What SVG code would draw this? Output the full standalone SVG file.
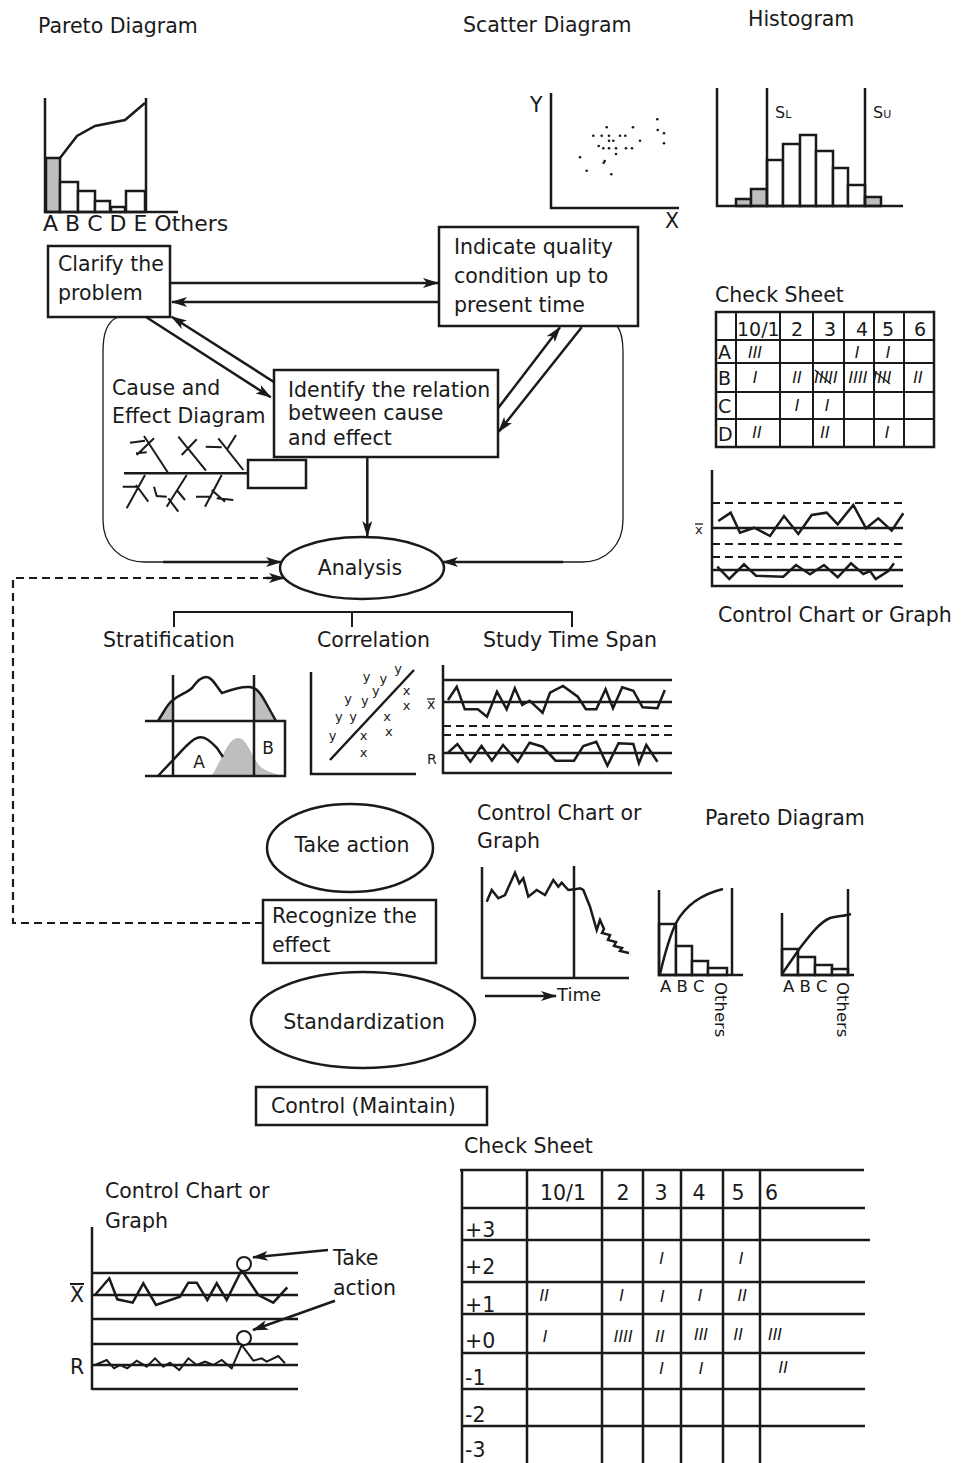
<svg xmlns="http://www.w3.org/2000/svg" width="972" height="1463" viewBox="0 0 972 1463">
<style>
text{font-family:"DejaVu Sans",sans-serif;fill:#1a1a1a}
.t{font-size:20.5px}
.s{font-size:16.5px}
.tl{font-size:16px;font-style:italic}
.ln{stroke:#1a1a1a;stroke-width:2.5;fill:none}
.th{stroke:#1a1a1a;stroke-width:2;fill:none}
.tn{stroke:#1a1a1a;stroke-width:1.3;fill:none}
.bx{stroke:#1a1a1a;stroke-width:2.5;fill:#fff}
.gr{fill:#bdbec0;stroke:#1a1a1a;stroke-width:2.5}
.gf{fill:#bdbec0;stroke:none}
.ds{stroke:#1a1a1a;stroke-width:2.2;fill:none;stroke-dasharray:8,5}
.dot{fill:#1a1a1a}
</style>
<defs>
<marker id="ah" markerWidth="16" markerHeight="10" refX="15" refY="5" orient="auto" markerUnits="userSpaceOnUse"><path d="M0,0 L16,5 L0,10 L4,5 z" fill="#1a1a1a"/></marker>
</defs>
<rect width="972" height="1463" fill="#fff"/>

<!-- Top Pareto -->
<g id="pareto-top">
<text class="t" x="38" y="33">Pareto Diagram</text>
<rect class="gr" x="46" y="158" width="14" height="54"/>
<rect class="bx" x="60" y="182" width="18" height="30"/>
<rect class="bx" x="78" y="191" width="17" height="21"/>
<rect class="bx" x="95" y="201" width="15" height="11"/>
<rect class="bx" x="111" y="207" width="14" height="5"/>
<rect class="bx" x="126" y="191" width="19" height="21"/>
<path class="ln" d="M45,98 V212 H178 M146,98 V212"/>
<polyline class="ln" points="60,158 77,136 95,126 125,120 145,103"/>
<text x="43" y="231" style="font-size:22px">A B C D E Others</text>
</g>

<!-- Scatter -->
<g id="scatter">
<text class="t" x="463" y="32">Scatter Diagram</text>
<path class="ln" d="M551,93 V208 H679"/>
<text class="t" x="530" y="112">Y</text>
<text class="t" x="665" y="228">X</text>
<g class="dot">
<circle cx="657.3" cy="119.3" r="1.3"/><circle cx="606.7" cy="127.3" r="1.3"/><circle cx="633" cy="127.3" r="1.3"/>
<circle cx="593.3" cy="135.7" r="1.3"/><circle cx="601.7" cy="135.7" r="1.3"/><circle cx="609" cy="135.7" r="1.3"/>
<circle cx="620" cy="135.7" r="1.3"/><circle cx="625.3" cy="135.7" r="1.3"/><circle cx="657.7" cy="130" r="1.3"/>
<circle cx="664" cy="133.3" r="1.3"/><circle cx="609" cy="140.7" r="1.3"/><circle cx="613.3" cy="140.7" r="1.3"/>
<circle cx="640" cy="140.7" r="1.3"/><circle cx="664" cy="143.3" r="1.3"/><circle cx="598.7" cy="146" r="1.3"/>
<circle cx="603.3" cy="148.3" r="1.3"/><circle cx="609" cy="148.3" r="1.3"/><circle cx="616" cy="148.3" r="1.3"/>
<circle cx="626" cy="148.3" r="1.3"/><circle cx="632" cy="148.3" r="1.3"/><circle cx="616" cy="154" r="1.3"/>
<circle cx="580" cy="157.3" r="1.3"/><circle cx="604.7" cy="161" r="1.3"/><circle cx="603.7" cy="162.7" r="1.3"/>
<circle cx="586.7" cy="170.7" r="1.3"/><circle cx="611.3" cy="174.3" r="1.3"/>
</g>
</g>

<!-- Histogram -->
<g id="histogram">
<text class="t" x="748" y="26">Histogram</text>
<rect class="gr" x="736" y="199" width="15" height="7"/>
<rect class="gr" x="751" y="189" width="16" height="17"/>
<rect class="bx" x="767" y="160" width="16" height="46"/>
<rect class="bx" x="783" y="144" width="17" height="62"/>
<rect class="bx" x="800" y="135" width="16" height="71"/>
<rect class="bx" x="816" y="151" width="17" height="55"/>
<rect class="bx" x="833" y="168" width="15" height="38"/>
<rect class="bx" x="848" y="185" width="17" height="21"/>
<rect class="gr" x="865" y="197" width="16" height="9"/>
<path class="ln" d="M717,88 V206 H903 M767,88 V206 M865,88 V206"/>
<text x="775" y="118" style="font-size:16px">S<tspan style="font-size:11px">L</tspan></text>
<text x="873" y="118" style="font-size:16px">S<tspan style="font-size:11px">U</tspan></text>
</g>

<!-- Check sheet right -->
<g id="checksheet-right">
<text class="t" x="715" y="302">Check Sheet</text>
<path class="th" d="M736,312 V447 M780,312 V447 M813,312 V447 M844,312 V447 M874,312 V447 M904,312 V447 M716,340 H934 M716,363 H934 M716,392 H934 M716,419 H934"/>
<rect x="716" y="312" width="218" height="135" class="ln"/>
<g style="font-size:19px">
<text x="737" y="336">10/1</text>
<text x="797" y="336" text-anchor="middle">2</text>
<text x="830" y="336" text-anchor="middle">3</text>
<text x="862" y="336" text-anchor="middle">4</text>
<text x="888" y="336" text-anchor="middle">5</text>
<text x="920" y="336" text-anchor="middle">6</text>
<text x="718" y="359">A</text>
<text x="718" y="385">B</text>
<text x="718" y="413">C</text>
<text x="718" y="441">D</text>
</g>
<g class="tl" text-anchor="middle">
<text x="755" y="358">III</text><text x="857" y="358">I</text><text x="888" y="358">I</text>
<text x="755" y="383">I</text><text x="797" y="383">II</text><text x="826" y="383">IIIII</text><text x="858" y="383">IIII</text><text x="882" y="383">IIII</text><text x="918" y="383">II</text>
<text x="797" y="411">I</text><text x="827" y="411">I</text>
<text x="757" y="438">II</text><text x="825" y="438">II</text><text x="887" y="438">I</text>
</g>
<path class="tn" d="M815,370 L831,384 M873,370 L890,384"/>
</g>

<!-- Control chart right -->
<g id="control-right">
<path class="ds" d="M712,503 H903 M712,544 H903 M712,557 H903"/>
<path class="ln" d="M712,470 V586 H903 M712,528 H903 M712,570 H903"/>
<polyline class="ln" points="718.3,521 730.7,512.7 740,532.7 754.3,527.7 770,536 784,516 798.3,534 811.7,515 826.7,512.7 837.7,524.3 853.3,505 866,528.3 878.3,518.3 891.7,530.7 903.3,513.3"/>
<polyline class="ln" points="717.3,566.7 729.3,579 744,564.3 756,575.7 783.3,576.7 796,565 810,574.3 824,565 837.7,577.3 851,563.3 863.3,574 870,571 875.7,579 888.3,571 894,563.3"/>
<text x="695" y="534" style="font-size:13px">x</text>
<line class="tn" x1="695" y1="524" x2="703" y2="524"/>
<text class="t" x="718" y="622">Control Chart or Graph</text>
</g>

<!-- Connectors -->
<g id="connectors">
<path class="tn" d="M118,317 C106,322 103,335 103,352 L103,520 C103,545 120,562 145,562 L163,562"/>
<path class="tn" d="M617,326 C622,332 623,340 623,352 L623,520 C623,545 606,562 582,562 L563,562"/>
<line class="ln" x1="163" y1="562" x2="281" y2="562" marker-end="url(#ah)"/>
<line class="ln" x1="563" y1="562" x2="443" y2="562" marker-end="url(#ah)"/>
<line class="ln" x1="170" y1="283" x2="438" y2="283" marker-end="url(#ah)"/>
<line class="ln" x1="439" y1="302" x2="172" y2="302" marker-end="url(#ah)"/>
<line class="ln" x1="146" y1="317" x2="270.7" y2="397.3" marker-end="url(#ah)"/>
<line class="ln" x1="275" y1="382.7" x2="171.7" y2="316.7" marker-end="url(#ah)"/>
<line class="ln" x1="498" y1="408.3" x2="560" y2="327.3" marker-end="url(#ah)"/>
<line class="ln" x1="581.7" y1="327.3" x2="498.7" y2="431.7" marker-end="url(#ah)"/>
<line class="ln" x1="367.3" y1="457" x2="367.3" y2="536" marker-end="url(#ah)"/>
<path class="ds" d="M263,923 H13 V578 H270"/>
<line class="ln" x1="266" y1="578" x2="284" y2="578" marker-end="url(#ah)"/>
<path class="th" d="M174,627 V612 H572 V627 M352,612 V627"/>
</g>

<!-- Nodes -->
<g id="clarify">
<rect class="bx" x="48" y="246" width="122" height="71"/>
<text class="t" x="58" y="271">Clarify the</text>
<text class="t" x="58" y="300">problem</text>
</g>
<g id="indicate">
<rect class="bx" x="439" y="227" width="199" height="99"/>
<text class="t" x="454" y="254">Indicate quality</text>
<text class="t" x="454" y="283">condition up to</text>
<text class="t" x="454" y="312">present time</text>
</g>
<g id="cause-effect">
<text class="t" x="112" y="395">Cause and</text>
<text class="t" x="112" y="423">Effect Diagram</text>
<rect class="bx" x="248" y="460" width="58" height="28"/>
<path class="ln" d="M124,473.3 H248"/>
<path class="th" d="M144,436 L167.7,472.3 M136.7,455 L154,438.3 M130,442.7 L145,440.7 M136,453.3 L146.7,452.3 M178.3,436.7 L206,470.7 M181.7,455 L196.7,439.3 M218.3,438.3 L243.3,470 M226.7,450 L236,435 M205.7,446.7 L221.7,447.3 M145,475 L126.7,508.3 M136,485 L148.3,501.7 M122.7,486.7 L136.7,486.7 M154,486.7 L156.7,496 L166.7,496.7 M186.7,475 L166.7,506.7 M176.7,490 L185,500 M168.3,498.3 L178.3,511.7 M221.7,475 L205,506.7 M211.7,490 L225,501.7 M196,496.7 L211.7,496.7 M216.7,498.3 L233.3,500"/>
</g>
<g id="identify">
<rect class="bx" x="274" y="370" width="224" height="87"/>
<text class="t" x="288" y="397">Identify the relation</text>
<text class="t" x="288" y="420">between cause</text>
<text class="t" x="288" y="445">and effect</text>
</g>
<g id="analysis">
<ellipse class="bx" cx="362" cy="568" rx="82" ry="31"/>
<text class="t" x="360" y="575" text-anchor="middle">Analysis</text>
</g>

<!-- Stratification -->
<g id="stratification">
<text class="t" x="103" y="647">Stratification</text>
<path class="gf" d="M158,721 C165,710 168,703 173,700 L173,721 Z"/>
<path class="gf" d="M254,688 C259,690 262,696 266,703 L276,721 L254,721 Z"/>
<path class="gf" d="M212,775 C222,760 228,738 238,738 C248,738 252,760 262,768 C268,772 274,773 279,775 Z"/>
<path class="ln" d="M158,721 C165,710 168,703 173,700 C180,694 187,693 192,688 C197,681 201,677 206,677 C213,677 217,688 222,693 C230,690 240,686 250,687 C258,688 262,696 266,703 L276,721"/>
<path class="ln" d="M158,776 L173,760 C182,751 190,740 197,738 C205,735 212,743 217,748 L223,757"/>
<path class="ln" d="M145,721 H285 V776 H145 M173,675 V776 M254,675 V776"/>
<text x="199" y="768" text-anchor="middle" style="font-size:17px">A</text>
<text x="268" y="754" text-anchor="middle" style="font-size:17px">B</text>
</g>

<!-- Correlation -->
<g id="correlation">
<text class="t" x="317" y="647">Correlation</text>
<path class="ln" d="M311,672 V774 H416 M330,760 L414,670"/>
<g style="font-size:13px" text-anchor="middle">
<text x="366.7" y="681">y</text><text x="383.3" y="683">y</text><text x="398.1" y="673">y</text>
<text x="348.1" y="703">y</text><text x="364.8" y="704.7">y</text><text x="375.9" y="694.7">y</text>
<text x="338.9" y="721.3">y</text><text x="353" y="721.3">y</text><text x="332.6" y="739.7">y</text>
<text x="406.7" y="695">x</text><text x="406.7" y="710">x</text><text x="387" y="721.3">x</text>
<text x="388.9" y="735.7">x</text><text x="363.7" y="740">x</text><text x="363.7" y="757">x</text>
</g>
</g>

<!-- Study time span -->
<g id="time-span">
<text class="t" x="483" y="647">Study Time Span</text>
<path class="ds" d="M443,726 H672 M443,735 H672"/>
<path class="ln" d="M443,665 V773 H672 M443,680 H672 M443,702 H672 M443,753 H672"/>
<polyline class="ln" points="448,700 456.7,686.7 464.8,709.3 477.8,709.3 487,716.7 497,691.7 506.7,709.3 514.8,688.3 522.2,705 529.6,700.7 542.6,712.7 550,692.7 563,686 577.8,696.7 585.9,709.3 596.3,709.3 605.6,689.3 613,708.3 622.2,687.3 633.3,690.7 642.6,707.3 657.4,708.3 664.8,690"/>
<polyline class="ln" points="448,752.7 457.4,744 470.4,761.7 481.5,746 491.9,760.7 503,745 517.8,761.7 529.6,742.7 542.6,746.7 555.6,760.7 574,760.7 583.3,746 596.3,741.7 607.4,765.7 618.5,743.3 633.3,744 638.9,763.3 646.3,745 657.4,761.7"/>
<text x="427" y="709" style="font-size:14px">x</text>
<line class="tn" x1="427" y1="699" x2="435" y2="699"/>
<text x="427" y="764" style="font-size:14px">R</text>
</g>

<g id="take-action">
<ellipse class="bx" cx="350" cy="848" rx="83" ry="44"/>
<text class="t" x="352" y="852" text-anchor="middle">Take action</text>
</g>
<g id="recognize">
<rect class="bx" x="263" y="900" width="173" height="63"/>
<text class="t" x="272" y="923">Recognize the</text>
<text class="t" x="272" y="952">effect</text>
</g>
<g id="standardization">
<ellipse class="bx" cx="363" cy="1020" rx="112" ry="48"/>
<text class="t" x="364" y="1029" text-anchor="middle">Standardization</text>
</g>
<g id="control-maintain">
<rect class="bx" x="256" y="1087" width="231" height="38"/>
<text class="t" x="271" y="1113">Control (Maintain)</text>
</g>

<!-- Middle control chart -->
<g id="control-middle">
<text class="t" x="477" y="820">Control Chart or</text>
<text class="t" x="477" y="848">Graph</text>
<path class="ln" d="M482,867 V978 H629 M574,866 V978"/>
<polyline class="ln" points="486.7,901.7 491.7,890 498.3,898.3 505,895 515,872.7 519.3,883.3 523.3,878.3 528.3,896.7 536.7,890 545,895 553.3,880 558.3,886.7 561.7,882.7 568.3,890 575,889.3 580,888.3 583.3,890 590,906.7 596.7,930 600,920 604,929 602,933 610,935 608,940 616,942 614,946 622,948 620,951 629,953"/>
<line class="ln" x1="485" y1="996" x2="556" y2="996" marker-end="url(#ah)"/>
<text x="557" y="1001" style="font-size:18px">Time</text>
</g>

<!-- Bottom paretos -->
<g id="pareto-bottom">
<text class="t" x="705" y="825">Pareto Diagram</text>
<rect class="bx" x="659" y="924" width="17" height="51"/>
<rect class="bx" x="676" y="946" width="16" height="29"/>
<rect class="bx" x="692" y="961" width="16" height="14"/>
<rect class="bx" x="708" y="968" width="19" height="7"/>
<path class="ln" d="M659,890 V975 H743 M732,888 V975"/>
<path class="ln" d="M660,974 Q668,940 676,923 Q690,897 723,889"/>
<text class="s" x="660" y="992">A B C</text>
<text class="s" x="715" y="982" transform="rotate(90 715 982)">Others</text>
<rect class="bx" x="782" y="949" width="16" height="26"/>
<rect class="bx" x="798" y="957" width="17" height="18"/>
<rect class="bx" x="815" y="965" width="17" height="10"/>
<rect class="bx" x="832" y="969" width="16" height="6"/>
<path class="ln" d="M782,913 V975 H854 M848,889 V975"/>
<path class="ln" d="M782,974 L800,948 C810,935 820,922 830,918 C838,916 845,916 851,914"/>
<text class="s" x="783" y="992">A B C</text>
<text class="s" x="837" y="982" transform="rotate(90 837 982)">Others</text>
</g>

<!-- Bottom control chart -->
<g id="control-bottom">
<text class="t" x="105" y="1198">Control Chart or</text>
<text class="t" x="105" y="1228">Graph</text>
<path class="ln" d="M92,1227 V1390 M92,1273 H298 M92,1295 H298 M92,1319 H298 M92,1344 H298 M92,1365 H298 M92,1389 H298"/>
<polyline class="ln" points="95,1295 109.3,1278.3 117.3,1299.3 132.7,1302.7 143.3,1283.3 156,1305 180,1296.7 188.3,1282.7 196.7,1282.7 207.3,1300 216.7,1283.3 226.7,1300 241.7,1270 258.3,1295 273.3,1302.7 287.3,1287.3"/>
<polyline class="th" points="95,1365 106.7,1360 114,1368.3 120,1365 127.3,1368.3 136.7,1360.7 146.7,1366.7 155,1358.3 163.3,1366.7 170,1362.7 179.3,1370 188.3,1358.3 196.7,1365 205,1361.7 213.3,1365 221.7,1360 231.7,1368.3 241.7,1345 253.3,1360.7 261.7,1358.3 266.7,1361.7 278.3,1356 285,1363.3"/>
<circle cx="244" cy="1264" r="7" fill="#fff" stroke="#1a1a1a" stroke-width="2"/>
<circle cx="244" cy="1338" r="7" fill="#fff" stroke="#1a1a1a" stroke-width="2"/>
<text class="t" x="70" y="1302">X</text>
<line class="th" x1="70" y1="1284" x2="84" y2="1284"/>
<text class="t" x="70" y="1374">R</text>
<line class="ln" x1="328" y1="1250" x2="253" y2="1257.3" marker-end="url(#ah)"/>
<line class="ln" x1="335" y1="1300.7" x2="253" y2="1330" marker-end="url(#ah)"/>
<text class="t" x="333" y="1265">Take</text>
<text class="t" x="333" y="1295">action</text>
</g>

<!-- Bottom check sheet -->
<g id="checksheet-bottom">
<text class="t" x="464" y="1153">Check Sheet</text>
<path class="ln" d="M460,1170 H864 M462,1170 V1463 M527,1170 V1463 M602,1170 V1463 M643,1170 V1463 M681,1170 V1463 M723,1170 V1463 M760,1170 V1463 M462,1208 H865 M462,1240 H870 M462,1282 H865 M462,1314 H865 M462,1353 H865 M462,1389 H865 M462,1426 H865"/>
<g class="t">
<text x="563" y="1200" text-anchor="middle">10/1</text>
<text x="623" y="1200" text-anchor="middle">2</text>
<text x="661" y="1200" text-anchor="middle">3</text>
<text x="699" y="1200" text-anchor="middle">4</text>
<text x="738" y="1200" text-anchor="middle">5</text>
<text x="765" y="1200">6</text>
<text x="465" y="1237">+3</text>
<text x="465" y="1274">+2</text>
<text x="465" y="1312">+1</text>
<text x="465" y="1348">+0</text>
<text x="465" y="1385">-1</text>
<text x="465" y="1422">-2</text>
<text x="465" y="1457">-3</text>
</g>
<g class="tl" text-anchor="middle">
<text x="661.7" y="1264">I</text><text x="741" y="1264">I</text>
<text x="544.3" y="1301">II</text><text x="621.7" y="1301">I</text><text x="662.3" y="1302">I</text><text x="700" y="1301">I</text><text x="742.3" y="1301">II</text>
<text x="545" y="1342">I</text><text x="623.3" y="1342">IIII</text><text x="660" y="1342">II</text><text x="701" y="1340">III</text><text x="738.3" y="1340">II</text><text x="775" y="1340">III</text>
<text x="661.7" y="1374">I</text><text x="701" y="1374">I</text><text x="783.3" y="1373">II</text>
</g>
</g>
</svg>
